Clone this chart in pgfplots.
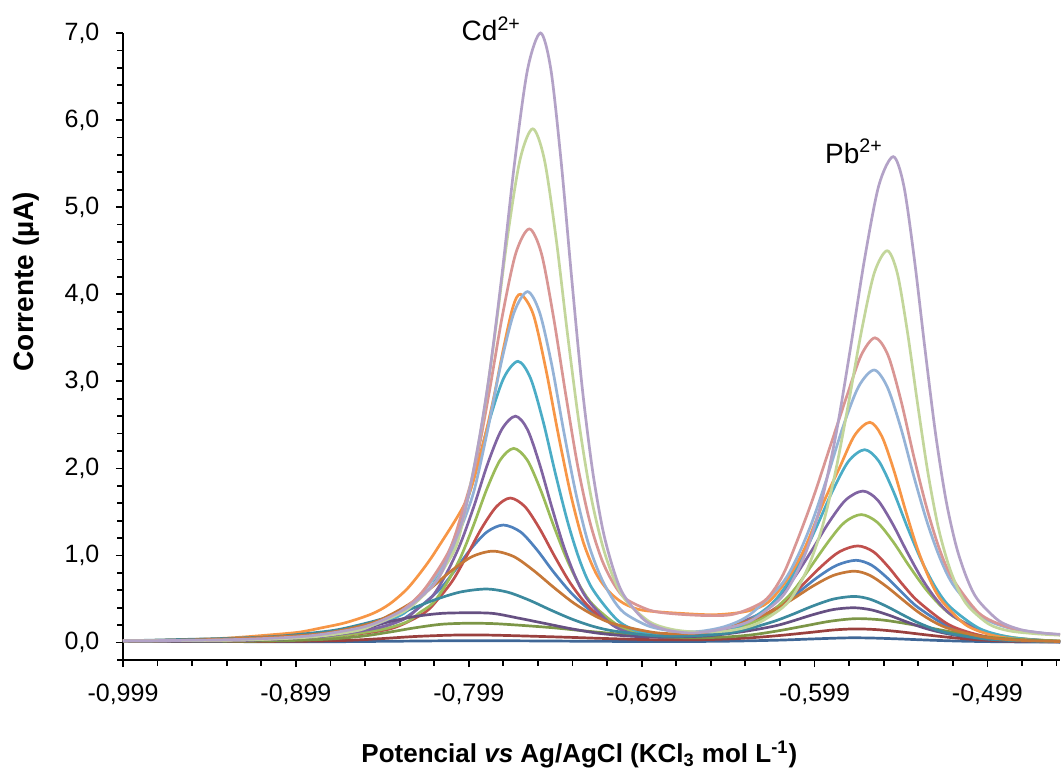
\documentclass[border=0pt]{standalone}
\usepackage{fontspec}
\setmainfont{Liberation Sans}
\usepackage{pgfplots}
\pgfplotsset{compat=1.18}
\definecolor{sA}{HTML}{4F81BD}
\definecolor{sB}{HTML}{C0504D}
\definecolor{sC}{HTML}{9BBB59}
\definecolor{sD}{HTML}{8064A2}
\definecolor{sE}{HTML}{4BACC6}
\definecolor{sF}{HTML}{F79646}
\definecolor{dA}{HTML}{3F6797}
\definecolor{dB}{HTML}{9A403E}
\definecolor{dC}{HTML}{7C9647}
\definecolor{dD}{HTML}{665082}
\definecolor{dE}{HTML}{3C8A9E}
\definecolor{dF}{HTML}{C67838}
\definecolor{lA}{HTML}{95B3D7}
\definecolor{lB}{HTML}{D99694}
\definecolor{lC}{HTML}{C3D69B}
\definecolor{lD}{HTML}{B3A2C7}
\begin{document}
\begin{tikzpicture}
\useasboundingbox (-61.5pt,-58pt) rectangle (470pt,330pt);
\begin{axis}[
  scale only axis, width=468.5pt, height=313.5pt,
  xmin=-0.999, xmax=-0.457, ymin=-0.2, ymax=7,
  axis lines*=left,
  axis line style={line width=1pt, black},
  tick style={line width=0.9pt, black},
  tick align=outside,
  major tick length=3.6pt, minor tick length=2.8pt,
  xtick={-0.999,-0.899,-0.799,-0.699,-0.599,-0.499},
  minor xtick={-0.979,-0.959,-0.939,-0.919,-0.879,-0.859,-0.839,-0.819,-0.779,-0.759,-0.739,-0.719,-0.679,-0.659,-0.639,-0.619,-0.579,-0.559,-0.539,-0.519,-0.479,-0.459},
  ytick={0,1,2,3,4,5,6,7},
  minor ytick={-0.2,0.2,0.4,0.6,0.8,1.2,1.4,1.6,1.8,2.2,2.4,2.6,2.8,3.2,3.4,3.6,3.8,4.2,4.4,4.6,4.8,5.2,5.4,5.6,5.8,6.2,6.4,6.6,6.8},
  scaled ticks=false,
  /pgf/number format/assume math mode=true,
  x tick label style={/pgf/number format/fixed, /pgf/number format/fixed zerofill, /pgf/number format/precision=3, /pgf/number format/use comma, anchor=north, inner sep=0pt, yshift=-8pt, font=\fontsize{12.5}{14}\selectfont},
  y tick label style={/pgf/number format/fixed, /pgf/number format/fixed zerofill, /pgf/number format/precision=1, /pgf/number format/use comma, anchor=east, inner sep=0pt, xshift=-8pt, font=\fontsize{12.5}{14}\selectfont},
  xlabel={\bfseries Potencial \textit{vs} Ag/AgCl (KCl\textsubscript{3} mol L\textsuperscript{-1})},
  xlabel style={at={(axis description cs:0.487,-0.1627)}, anchor=base, inner sep=0pt, font=\fontsize{13}{15}\selectfont},
  ylabel={\bfseries Corrente (µA)},
  ylabel style={at={(axis description cs:-0.0955,0.6037)}, anchor=base, rotate=0, inner sep=0pt, font=\fontsize{14}{16}\selectfont},
  clip=false,
  curve/.style={line width=1.35pt, smooth, mark=none},
]
% normal series
\addplot[curve, sA] coordinates {(-0.999,0.02)(-0.95,0.024)(-0.912,0.041)(-0.874,0.093)(-0.855,0.148)(-0.836,0.282)(-0.817,0.589)(-0.8075,0.816)(-0.798,1.07)(-0.7885,1.27)(-0.779,1.35)(-0.769,1.27)(-0.7595,1.064)(-0.75,0.812)(-0.74,0.576)(-0.73,0.39)(-0.7205,0.263)(-0.701,0.123)(-0.6815,0.083)(-0.66,0.106)(-0.6425,0.192)(-0.62,0.405)(-0.5975,0.746)(-0.586,0.889)(-0.575,0.945)(-0.566,0.889)(-0.557,0.744)(-0.548,0.567)(-0.539,0.402)(-0.521,0.178)(-0.503,0.076)(-0.485,0.033)(-0.457,0.012)};
\addplot[curve, sB] coordinates {(-0.999,0.02)(-0.9235,0.027)(-0.8905,0.048)(-0.8575,0.112)(-0.841,0.179)(-0.8245,0.344)(-0.8163,0.51)(-0.808,0.722)(-0.80,1.002)(-0.7915,1.315)(-0.783,1.561)(-0.775,1.66)(-0.7665,1.561)(-0.758,1.308)(-0.7495,0.997)(-0.741,0.706)(-0.7325,0.476)(-0.724,0.318)(-0.707,0.139)(-0.69,0.077)(-0.67,0.074)(-0.65,0.135)(-0.637,0.216)(-0.616,0.475)(-0.595,0.876)(-0.5845,1.044)(-0.574,1.11)(-0.565,1.044)(-0.5565,0.874)(-0.548,0.666)(-0.539,0.472)(-0.5215,0.208)(-0.504,0.087)(-0.4865,0.037)(-0.457,0.012)};
\addplot[curve, sC] coordinates {(-0.999,0.02)(-0.96,0.016)(-0.9125,0.032)(-0.8815,0.061)(-0.8505,0.146)(-0.835,0.236)(-0.8273,0.345)(-0.8195,0.458)(-0.8118,0.68)(-0.804,0.967)(-0.7963,1.344)(-0.7885,1.765)(-0.7808,2.097)(-0.773,2.23)(-0.7652,2.097)(-0.7575,1.756)(-0.7498,1.337)(-0.742,0.945)(-0.7343,0.635)(-0.7265,0.42)(-0.711,0.176)(-0.6955,0.083)(-0.675,0.056)(-0.655,0.092)(-0.629,0.278)(-0.6195,0.43)(-0.61,0.626)(-0.591,1.159)(-0.5815,1.383)(-0.572,1.47)(-0.5628,1.383)(-0.5535,1.157)(-0.5443,0.881)(-0.535,0.623)(-0.5258,0.418)(-0.5165,0.273)(-0.498,0.113)(-0.4795,0.047)(-0.457,0.015)};
\addplot[curve, sD] coordinates {(-0.999,0.02)(-0.96,0.016)(-0.916,0.035)(-0.884,0.069)(-0.852,0.168)(-0.836,0.273)(-0.828,0.40)(-0.82,0.532)(-0.812,0.79)(-0.804,1.127)(-0.796,1.566)(-0.788,2.057)(-0.78,2.445)(-0.772,2.60)(-0.765,2.445)(-0.758,2.047)(-0.751,1.558)(-0.744,1.101)(-0.737,0.74)(-0.73,0.487)(-0.716,0.203)(-0.702,0.094)(-0.68,0.058)(-0.66,0.098)(-0.631,0.327)(-0.621,0.50)(-0.611,0.74)(-0.601,1.045)(-0.591,1.371)(-0.581,1.637)(-0.571,1.74)(-0.5625,1.637)(-0.554,1.369)(-0.5455,1.042)(-0.537,0.737)(-0.5285,0.494)(-0.52,0.322)(-0.503,0.132)(-0.486,0.054)(-0.457,0.015)};
\addplot[curve, sE] coordinates {(-0.999,0.02)(-0.96,0.018)(-0.919,0.041)(-0.886,0.083)(-0.853,0.206)(-0.8365,0.336)(-0.8283,0.50)(-0.82,0.658)(-0.8118,0.98)(-0.8035,1.397)(-0.7953,1.944)(-0.787,2.555)(-0.7788,3.037)(-0.7705,3.23)(-0.7633,3.037)(-0.756,2.542)(-0.7488,1.934)(-0.7415,1.365)(-0.7343,0.915)(-0.727,0.602)(-0.7125,0.249)(-0.698,0.11)(-0.68,0.063)(-0.66,0.087)(-0.644,0.17)(-0.6255,0.413)(-0.6163,0.63)(-0.607,0.939)(-0.5978,1.33)(-0.5885,1.744)(-0.5793,2.083)(-0.570,2.215)(-0.5618,2.083)(-0.5535,1.742)(-0.5453,1.325)(-0.537,0.936)(-0.5288,0.627)(-0.5205,0.408)(-0.504,0.166)(-0.4875,0.067)(-0.471,0.03)(-0.457,0.015)};
\addplot[curve, sF] coordinates {(-0.999,0.02)(-0.97,0.03)(-0.94,0.05)(-0.913,0.09)(-0.897,0.12)(-0.884,0.17)(-0.87,0.23)(-0.855,0.33)(-0.845,0.44)(-0.835,0.61)(-0.8263,0.82)(-0.8175,1.07)(-0.8002,1.64)(-0.7916,2.21)(-0.7848,2.79)(-0.7791,3.36)(-0.7735,3.85)(-0.769,4.0)(-0.7617,3.77)(-0.7545,3.15)(-0.7473,2.40)(-0.740,1.70)(-0.7328,1.156)(-0.7255,0.80)(-0.7183,0.594)(-0.711,0.47)(-0.7038,0.40)(-0.6965,0.366)(-0.68,0.34)(-0.657,0.32)(-0.638,0.36)(-0.626,0.46)(-0.615,0.72)(-0.605,1.07)(-0.594,1.60)(-0.5845,2.01)(-0.5758,2.38)(-0.567,2.53)(-0.5601,2.37)(-0.5533,1.99)(-0.5464,1.52)(-0.5395,1.08)(-0.5326,0.735)(-0.5258,0.49)(-0.512,0.21)(-0.4983,0.095)(-0.4845,0.044)(-0.47,0.025)(-0.457,0.018)};
% darker series
\addplot[curve, dA] coordinates {(-0.999,0.02)(-0.95,0.012)(-0.88,0.01)(-0.84,0.016)(-0.80,0.022)(-0.76,0.019)(-0.72,0.014)(-0.68,0.012)(-0.65,0.016)(-0.62,0.028)(-0.60,0.042)(-0.585,0.052)(-0.576,0.055)(-0.565,0.052)(-0.55,0.042)(-0.535,0.03)(-0.515,0.017)(-0.49,0.009)(-0.457,0.005)};
\addplot[curve, dB] coordinates {(-0.999,0.02)(-0.95,0.012)(-0.90,0.015)(-0.87,0.025)(-0.85,0.045)(-0.83,0.07)(-0.81,0.085)(-0.795,0.088)(-0.78,0.083)(-0.76,0.072)(-0.74,0.06)(-0.72,0.047)(-0.70,0.036)(-0.68,0.032)(-0.66,0.035)(-0.64,0.05)(-0.62,0.08)(-0.60,0.12)(-0.588,0.145)(-0.576,0.157)(-0.564,0.15)(-0.55,0.125)(-0.535,0.09)(-0.52,0.058)(-0.505,0.033)(-0.485,0.016)(-0.457,0.008)};
\addplot[curve, dC] coordinates {(-0.999,0.02)(-0.95,0.013)(-0.91,0.02)(-0.88,0.04)(-0.86,0.075)(-0.845,0.12)(-0.83,0.17)(-0.815,0.21)(-0.80,0.222)(-0.785,0.218)(-0.77,0.20)(-0.75,0.17)(-0.73,0.13)(-0.71,0.095)(-0.69,0.068)(-0.67,0.055)(-0.65,0.065)(-0.635,0.09)(-0.62,0.135)(-0.605,0.19)(-0.59,0.245)(-0.575,0.275)(-0.56,0.26)(-0.545,0.215)(-0.53,0.16)(-0.515,0.105)(-0.50,0.065)(-0.485,0.04)(-0.47,0.025)(-0.457,0.018)};
\addplot[curve, dD] coordinates {(-0.999,0.02)(-0.95,0.014)(-0.92,0.03)(-0.90,0.05)(-0.88,0.09)(-0.86,0.16)(-0.845,0.24)(-0.83,0.30)(-0.815,0.335)(-0.80,0.342)(-0.785,0.335)(-0.77,0.28)(-0.755,0.22)(-0.74,0.16)(-0.725,0.11)(-0.71,0.08)(-0.695,0.064)(-0.68,0.064)(-0.66,0.079)(-0.64,0.127)(-0.62,0.20)(-0.60,0.32)(-0.588,0.38)(-0.576,0.40)(-0.566,0.375)(-0.556,0.315)(-0.546,0.24)(-0.536,0.17)(-0.526,0.118)(-0.516,0.08)(-0.501,0.043)(-0.48,0.019)(-0.457,0.008)};
\addplot[curve, dE] coordinates {(-0.999,0.02)(-0.969,0.034)(-0.939,0.048)(-0.909,0.073)(-0.879,0.135)(-0.864,0.195)(-0.849,0.273)(-0.834,0.375)(-0.819,0.489)(-0.804,0.58)(-0.789,0.615)(-0.7765,0.579)(-0.764,0.487)(-0.7515,0.373)(-0.739,0.267)(-0.7265,0.183)(-0.714,0.13)(-0.689,0.075)(-0.665,0.081)(-0.645,0.121)(-0.624,0.234)(-0.612,0.322)(-0.600,0.42)(-0.588,0.50)(-0.576,0.53)(-0.567,0.499)(-0.5575,0.418)(-0.548,0.319)(-0.539,0.228)(-0.5298,0.155)(-0.5205,0.103)(-0.502,0.046)(-0.4835,0.022)(-0.457,0.01)};
\addplot[curve, dF] coordinates {(-0.999,0.02)(-0.9495,0.035)(-0.9025,0.074)(-0.879,0.117)(-0.8555,0.222)(-0.8438,0.325)(-0.832,0.46)(-0.8203,0.636)(-0.8085,0.833)(-0.797,0.988)(-0.785,1.05)(-0.773,0.988)(-0.7615,0.828)(-0.7498,0.633)(-0.738,0.45)(-0.7263,0.31)(-0.7145,0.212)(-0.691,0.114)(-0.67,0.104)(-0.65,0.166)(-0.624,0.356)(-0.612,0.495)(-0.600,0.648)(-0.588,0.772)(-0.576,0.82)(-0.567,0.772)(-0.5575,0.646)(-0.548,0.492)(-0.539,0.35)(-0.5298,0.236)(-0.5205,0.156)(-0.502,0.067)(-0.4835,0.029)(-0.457,0.012)};
% lighter series
\addplot[curve, lA] coordinates {(-0.999,0.02)(-0.93,0.03)(-0.89,0.07)(-0.863,0.15)(-0.8425,0.30)(-0.827,0.55)(-0.8115,0.95)(-0.8038,1.30)(-0.796,1.74)(-0.7883,2.42)(-0.7805,3.19)(-0.7728,3.79)(-0.765,4.03)(-0.758,3.79)(-0.751,3.19)(-0.744,2.42)(-0.737,1.71)(-0.730,1.15)(-0.723,0.77)(-0.716,0.51)(-0.709,0.34)(-0.695,0.19)(-0.68,0.13)(-0.665,0.13)(-0.65,0.19)(-0.6365,0.32)(-0.6185,0.66)(-0.6095,0.96)(-0.6005,1.38)(-0.5915,1.91)(-0.5825,2.48)(-0.5735,2.94)(-0.5645,3.13)(-0.5568,2.93)(-0.549,2.46)(-0.5413,1.89)(-0.5335,1.36)(-0.5258,0.94)(-0.518,0.64)(-0.5025,0.30)(-0.487,0.17)(-0.47,0.115)(-0.457,0.09)};
\addplot[curve, lB] coordinates {(-0.999,0.02)(-0.93,0.03)(-0.89,0.07)(-0.863,0.15)(-0.8415,0.32)(-0.826,0.58)(-0.8105,1.05)(-0.8028,1.50)(-0.795,2.05)(-0.7873,2.86)(-0.7795,3.76)(-0.7718,4.47)(-0.764,4.75)(-0.757,4.47)(-0.75,3.74)(-0.743,2.86)(-0.736,2.03)(-0.729,1.39)(-0.722,0.95)(-0.715,0.67)(-0.708,0.50)(-0.694,0.37)(-0.68,0.33)(-0.66,0.31)(-0.645,0.33)(-0.628,0.48)(-0.618,0.75)(-0.61,1.12)(-0.60,1.65)(-0.59,2.25)(-0.58,2.85)(-0.572,3.3)(-0.564,3.5)(-0.5565,3.30)(-0.549,2.78)(-0.5415,2.13)(-0.534,1.54)(-0.5265,1.06)(-0.519,0.73)(-0.504,0.34)(-0.489,0.19)(-0.474,0.12)(-0.457,0.09)};
\addplot[curve, lC] coordinates {(-0.999,0.02)(-0.93,0.03)(-0.89,0.065)(-0.863,0.14)(-0.85,0.24)(-0.8345,0.38)(-0.82,0.65)(-0.8128,0.87)(-0.8055,1.15)(-0.7983,1.78)(-0.791,2.55)(-0.7838,3.55)(-0.7765,4.67)(-0.7693,5.55)(-0.762,5.90)(-0.7553,5.55)(-0.7485,4.645)(-0.7418,3.53)(-0.735,2.49)(-0.7283,1.68)(-0.7215,1.105)(-0.7148,0.72)(-0.708,0.48)(-0.6945,0.24)(-0.681,0.15)(-0.665,0.12)(-0.647,0.14)(-0.632,0.22)(-0.617,0.41)(-0.6095,0.60)(-0.602,0.90)(-0.5945,1.33)(-0.587,1.95)(-0.5795,2.73)(-0.572,3.56)(-0.5645,4.24)(-0.557,4.5)(-0.5511,4.24)(-0.5452,3.56)(-0.5393,2.73)(-0.5334,1.95)(-0.5275,1.33)(-0.5216,0.90)(-0.5157,0.60)(-0.5098,0.41)(-0.498,0.21)(-0.4862,0.134)(-0.47,0.1)(-0.457,0.085)};
\addplot[curve, lD] coordinates {(-0.999,0.02)(-0.9375,0.033)(-0.8925,0.075)(-0.8625,0.167)(-0.8475,0.27)(-0.8325,0.43)(-0.8175,0.71)(-0.81,1.03)(-0.8025,1.41)(-0.795,2.11)(-0.7875,3.02)(-0.780,4.19)(-0.7725,5.51)(-0.765,6.58)(-0.7575,7.0)(-0.7515,6.58)(-0.7455,5.51)(-0.7395,4.19)(-0.7335,2.95)(-0.7275,1.99)(-0.7215,1.30)(-0.7155,0.85)(-0.7095,0.55)(-0.6975,0.26)(-0.6855,0.15)(-0.67,0.11)(-0.6525,0.154)(-0.636,0.25)(-0.6195,0.49)(-0.6113,0.725)(-0.603,1.09)(-0.5948,1.63)(-0.5865,2.40)(-0.5783,3.37)(-0.570,4.41)(-0.5618,5.25)(-0.5535,5.58)(-0.5474,5.25)(-0.5413,4.41)(-0.5351,3.37)(-0.529,2.40)(-0.5229,1.63)(-0.5168,1.09)(-0.5106,0.725)(-0.5045,0.49)(-0.4923,0.25)(-0.48,0.15)(-0.467,0.11)(-0.457,0.095)};
\node[anchor=base west, inner sep=0pt, font=\fontsize{14}{16}\selectfont] at (axis cs:-0.8033,6.91) {Cd\textsuperscript{2+}};
\node[anchor=base west, inner sep=0pt, font=\fontsize{14}{16}\selectfont] at (axis cs:-0.5931,5.505) {Pb\textsuperscript{2+}};
\end{axis}
\end{tikzpicture}
\end{document}
